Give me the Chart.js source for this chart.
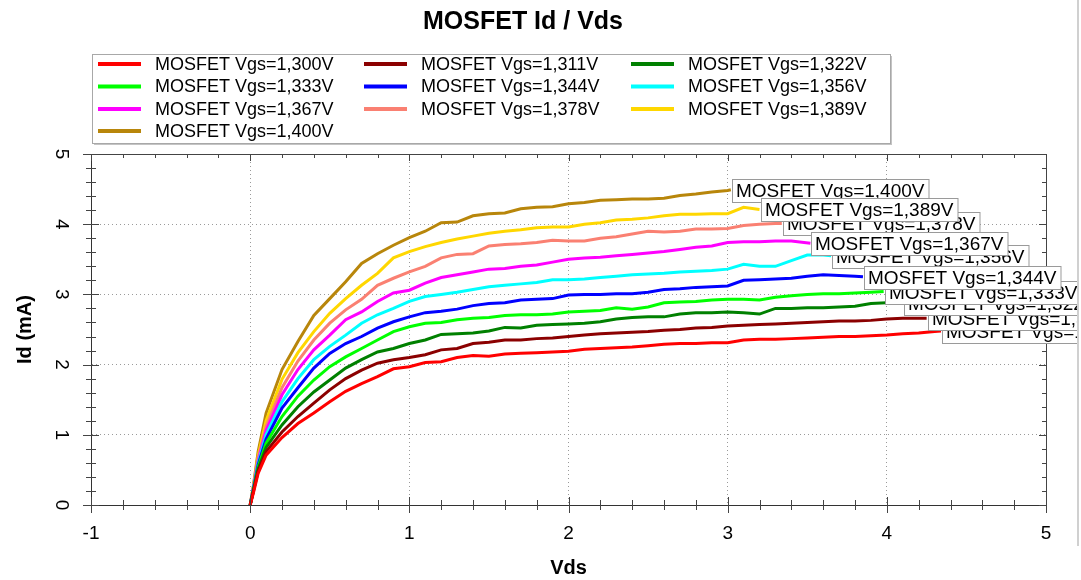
<!DOCTYPE html>
<html>
<head>
<meta charset="utf-8">
<script src="https://cdn.jsdelivr.net/npm/chart.js@4.4.0/dist/chart.umd.min.js"></script>
<style>
  html, body { margin: 0; padding: 0; background: #fff; }
  #wrap { position: relative; width: 1081px; height: 580px; }
  #grafico { position: absolute; left: 0; top: 0; }
  #borde { position: absolute; left: 1077px; top: 0; width: 2px; height: 546px; background: #d0d0d0; }
</style>
</head>
<body>
<div id="wrap">
  <canvas id="grafico" width="1077" height="580"></canvas>
  <div id="borde"></div>
</div>
<script>
// Vds común (V) y corriente Id (mA) por cada Vgs
const vds = [0, 0.02, 0.05, 0.1, 0.2, 0.3, 0.4, 0.5, 0.6, 0.7, 0.8, 0.9, 1.0,
  1.1, 1.2, 1.3, 1.4, 1.5, 1.6, 1.7, 1.8, 1.9, 2.0,
  2.1, 2.2, 2.3, 2.4, 2.5, 2.6, 2.7, 2.8, 2.9, 3.0,
  3.1, 3.2, 3.3, 3.4, 3.5, 3.6, 3.7, 3.8, 3.9, 4.0,
  4.1, 4.2, 4.3];

const vgs = ['1,300', '1,311', '1,322', '1,333', '1,344', '1,356', '1,367', '1,378', '1,389', '1,400'];
const colores = ['#FF0000', '#8B0000', '#008000', '#00FF00', '#0000FF', '#00FFFF', '#FF00FF', '#FA8072', '#FFD700', '#B8860B'];

const idVgs1300 = [0, 0.17, 0.45, 0.71, 0.96, 1.16, 1.31, 1.47, 1.62, 1.73, 1.83, 1.94, 1.97,
  2.03, 2.04, 2.10, 2.13, 2.12, 2.15, 2.16, 2.17, 2.18, 2.19,
  2.22, 2.23, 2.24, 2.25, 2.27, 2.29, 2.30, 2.30, 2.31, 2.31,
  2.35, 2.36, 2.36, 2.37, 2.38, 2.39, 2.40, 2.40, 2.41, 2.42,
  2.44, 2.45, 2.47];
const idVgs1311 = [0, 0.19, 0.48, 0.76, 1.04, 1.26, 1.45, 1.64, 1.80, 1.92, 2.02, 2.07, 2.10,
  2.14, 2.21, 2.23, 2.30, 2.32, 2.35, 2.35, 2.37, 2.38, 2.40,
  2.42, 2.44, 2.45, 2.46, 2.47, 2.49, 2.50, 2.52, 2.53, 2.55,
  2.56, 2.57, 2.58, 2.59, 2.60, 2.61, 2.62, 2.62, 2.63, 2.65,
  2.66, 2.66];
const idVgs1322 = [0, 0.20, 0.51, 0.82, 1.14, 1.40, 1.61, 1.78, 1.95, 2.07, 2.18, 2.23, 2.30,
  2.35, 2.43, 2.44, 2.45, 2.48, 2.53, 2.52, 2.56, 2.57, 2.58,
  2.59, 2.61, 2.65, 2.67, 2.68, 2.68, 2.72, 2.74, 2.74, 2.75,
  2.74, 2.72, 2.80, 2.80, 2.81, 2.81, 2.82, 2.83, 2.87, 2.88];
const idVgs1333 = [0, 0.21, 0.54, 0.88, 1.26, 1.55, 1.78, 1.97, 2.11, 2.23, 2.35, 2.47, 2.54,
  2.59, 2.60, 2.64, 2.66, 2.67, 2.70, 2.71, 2.71, 2.72, 2.75,
  2.76, 2.77, 2.81, 2.79, 2.82, 2.88, 2.89, 2.90, 2.92, 2.93,
  2.93, 2.92, 2.96, 2.98, 3.00, 3.01, 3.01, 3.02, 3.03];
const idVgs1344 = [0, 0.22, 0.57, 0.94, 1.38, 1.67, 1.95, 2.16, 2.30, 2.40, 2.52, 2.61, 2.68,
  2.74, 2.76, 2.79, 2.84, 2.87, 2.88, 2.92, 2.93, 2.94, 2.99,
  3.00, 3.00, 3.01, 3.01, 3.03, 3.07, 3.08, 3.10, 3.11, 3.12,
  3.20, 3.21, 3.22, 3.23, 3.26, 3.28, 3.27, 3.26];
const idVgs1356 = [0, 0.23, 0.60, 1.00, 1.47, 1.80, 2.07, 2.26, 2.42, 2.59, 2.71, 2.80, 2.90,
  2.97, 3.00, 3.03, 3.07, 3.11, 3.13, 3.15, 3.17, 3.21, 3.21,
  3.22, 3.24, 3.26, 3.28, 3.29, 3.30, 3.32, 3.33, 3.34, 3.36,
  3.43, 3.40, 3.40, 3.48, 3.56, 3.56];
const idVgs1367 = [0, 0.24, 0.63, 1.06, 1.57, 1.93, 2.21, 2.42, 2.64, 2.75, 2.90, 3.02, 3.06,
  3.16, 3.24, 3.28, 3.32, 3.36, 3.37, 3.40, 3.42, 3.46, 3.50,
  3.52, 3.53, 3.55, 3.57, 3.59, 3.61, 3.64, 3.67, 3.69, 3.74,
  3.75, 3.75, 3.76, 3.76];
const idVgs1378 = [0, 0.25, 0.66, 1.12, 1.67, 2.05, 2.35, 2.59, 2.78, 2.93, 3.13, 3.23, 3.32,
  3.40, 3.52, 3.57, 3.58, 3.69, 3.71, 3.72, 3.74, 3.77, 3.76,
  3.76, 3.80, 3.82, 3.86, 3.90, 3.89, 3.90, 3.93, 3.93, 3.94,
  3.98, 4.00, 4.01];
const idVgs1389 = [0, 0.26, 0.70, 1.20, 1.79, 2.17, 2.47, 2.73, 2.94, 3.13, 3.30, 3.52, 3.61,
  3.68, 3.74, 3.79, 3.83, 3.87, 3.90, 3.92, 3.95, 3.96, 3.96,
  4.00, 4.02, 4.06, 4.07, 4.09, 4.12, 4.14, 4.14, 4.15, 4.15,
  4.24];
const idVgs1400 = [0, 0.27, 0.76, 1.31, 1.93, 2.33, 2.70, 2.94, 3.18, 3.44, 3.58, 3.70, 3.81,
  3.90, 4.02, 4.03, 4.12, 4.15, 4.16, 4.22, 4.24, 4.25, 4.29,
  4.31, 4.34, 4.35, 4.36, 4.36, 4.37, 4.41, 4.43, 4.46, 4.48];

// último punto medido de cada curva
const vdsFinal = [4.34, 4.25, 4.10, 3.98, 3.85, 3.65, 3.52, 3.34, 3.20, 3.02];
const idFinal = [2.48, 2.66, 2.88, 3.04, 3.25, 3.55, 3.73, 4.01, 4.21, 4.49];

const series = [idVgs1300, idVgs1311, idVgs1322, idVgs1333, idVgs1344,
  idVgs1356, idVgs1367, idVgs1378, idVgs1389, idVgs1400];

// orden en que se pintan las etiquetas del final de cada curva
const ordenEtiquetas = [0, 1, 2, 3, 5, 7, 4, 6, 9, 8];

const FUENTE = "'Liberation Sans', Arial, Helvetica, sans-serif";
Chart.defaults.font.family = FUENTE;
Chart.defaults.color = '#000';

function puntos(valores, i) {
  const pts = valores.map((v, k) => ({ x: vds[k], y: v }));
  pts.push({ x: vdsFinal[i], y: idFinal[i] });
  return pts;
}

const datasets = series.map((valores, i) => ({
  label: `MOSFET Vgs=${vgs[i]}V`,
  data: puntos(valores, i),
  borderColor: colores[i],
  backgroundColor: colores[i],
  borderWidth: 3,
  pointRadius: 0,
  tension: 0,
  fill: false
}));

// marco superior/derecho y marcas menores de los ejes
const marcasEjes = {
  id: 'marcasEjes',
  afterDraw(chart) {
    const { ctx, chartArea: a, scales: { x, y } } = chart;
    ctx.save();
    ctx.strokeStyle = '#444';
    ctx.lineWidth = 1;
    ctx.beginPath();
    ctx.moveTo(a.left, Math.round(a.top) + 0.5);
    ctx.lineTo(a.right, Math.round(a.top) + 0.5);
    ctx.moveTo(Math.round(a.right) + 0.5, a.top);
    ctx.lineTo(Math.round(a.right) + 0.5, a.bottom);
    for (let k = 0; k <= 30; k++) {
      const px = Math.round(x.getPixelForValue(x.min + k * 0.2)) + 0.5;
      const l = k % 5 === 0 ? 8 : 5;
      ctx.moveTo(px, a.bottom - l);
      ctx.lineTo(px, a.bottom + l);
      ctx.moveTo(px, a.top);
      ctx.lineTo(px, a.top + l - 1);
    }
    for (let k = 0; k <= 25; k++) {
      const py = Math.round(y.getPixelForValue(y.min + k * 0.2)) + 0.5;
      const l = k % 5 === 0 ? 8 : 5;
      ctx.moveTo(a.left - l, py);
      ctx.lineTo(a.left + l, py);
      ctx.moveTo(a.right, py);
      ctx.lineTo(a.right - l + 1, py);
    }
    ctx.stroke();
    ctx.restore();
  }
};

// etiqueta con el nombre al final de cada curva
const etiquetasFinales = {
  id: 'etiquetasFinales',
  afterDraw(chart) {
    const { ctx } = chart;
    ctx.save();
    ctx.font = `19px ${FUENTE}`;
    ctx.textBaseline = 'middle';
    ctx.textAlign = 'left';
    ordenEtiquetas.forEach(i => {
      const meta = chart.getDatasetMeta(i);
      const ult = meta.data[meta.data.length - 1];
      const texto = chart.data.datasets[i].label;
      const w = ctx.measureText(texto).width + 8;
      const h = 23;
      const bx = Math.round(ult.x) + 1.5;
      const by = Math.round(ult.y) - 10.5;
      ctx.fillStyle = '#fff';
      ctx.fillRect(bx, by, w, h);
      ctx.strokeStyle = '#9a9a9a';
      ctx.lineWidth = 1;
      ctx.strokeRect(bx, by, w, h);
      ctx.fillStyle = '#000';
      ctx.fillText(texto, bx + 3.5, by + h / 2 + 1);
    });
    ctx.restore();
  }
};

// leyenda en tres columnas dentro de un recuadro
const leyenda = {
  id: 'leyenda',
  afterDraw(chart) {
    const { ctx } = chart;
    const caja = { x: 92, y: 54, w: 798, h: 89 };
    const colX = [98, 364, 631];
    const filaY = [64, 86.5, 109, 131];
    ctx.save();
    ctx.fillStyle = '#c4c4c4';
    ctx.fillRect(caja.x + 2, caja.y + caja.h, caja.w, 2);
    ctx.fillRect(caja.x + caja.w, caja.y + 2, 2, caja.h);
    ctx.strokeStyle = '#a8a8a8';
    ctx.lineWidth = 1;
    ctx.strokeRect(caja.x + 0.5, caja.y + 0.5, caja.w, caja.h);
    ctx.font = `18px ${FUENTE}`;
    ctx.textBaseline = 'middle';
    chart.data.datasets.forEach((ds, i) => {
      const cx = colX[i % 3];
      const cy = filaY[Math.floor(i / 3)];
      ctx.fillStyle = ds.borderColor;
      ctx.fillRect(cx, cy - 2, 43, 4);
      ctx.fillStyle = '#000';
      ctx.fillText(ds.label, cx + 57, cy + 1);
    });
    ctx.restore();
  }
};

new Chart(document.getElementById('grafico'), {
  type: 'line',
  data: { datasets },
  plugins: [marcasEjes, etiquetasFinales, leyenda],
  options: {
    responsive: false,
    animation: false,
    devicePixelRatio: 1,
    layout: { padding: { top: 0, right: 31, left: 0, bottom: 0 } },
    plugins: {
      legend: { display: false },
      tooltip: { enabled: false },
      title: {
        display: true,
        text: 'MOSFET Id / Vds',
        color: '#000',
        font: { size: 25, weight: 'bold' },
        padding: { top: 7, bottom: 117 }
      }
    },
    scales: {
      x: {
        type: 'linear',
        min: -1,
        max: 5,
        afterFit(s) { s.height = 75; },
        ticks: { stepSize: 1, padding: 17, font: { size: 19 }, color: '#000', maxRotation: 0 },
        grid: { color: '#9a9a9a', drawTicks: false },
        border: { color: '#333', width: 1, dash: [1, 3] },
        title: { display: true, text: 'Vds', font: { size: 20, weight: 'bold' }, padding: { top: 0, bottom: 0 } }
      },
      y: {
        type: 'linear',
        min: 0,
        max: 5,
        afterFit(s) { s.width = 91; },
        ticks: { stepSize: 1, padding: 24, font: { size: 19 }, color: '#000', minRotation: -90, maxRotation: -90, crossAlign: 'center' },
        grid: { color: '#9a9a9a', drawTicks: false },
        border: { color: '#333', width: 1, dash: [1, 3] },
        title: { display: true, text: 'Id (mA)', font: { size: 20, weight: 'bold' }, padding: { top: 13, bottom: 0 } }
      }
    }
  }
});
</script>
</body>
</html>
